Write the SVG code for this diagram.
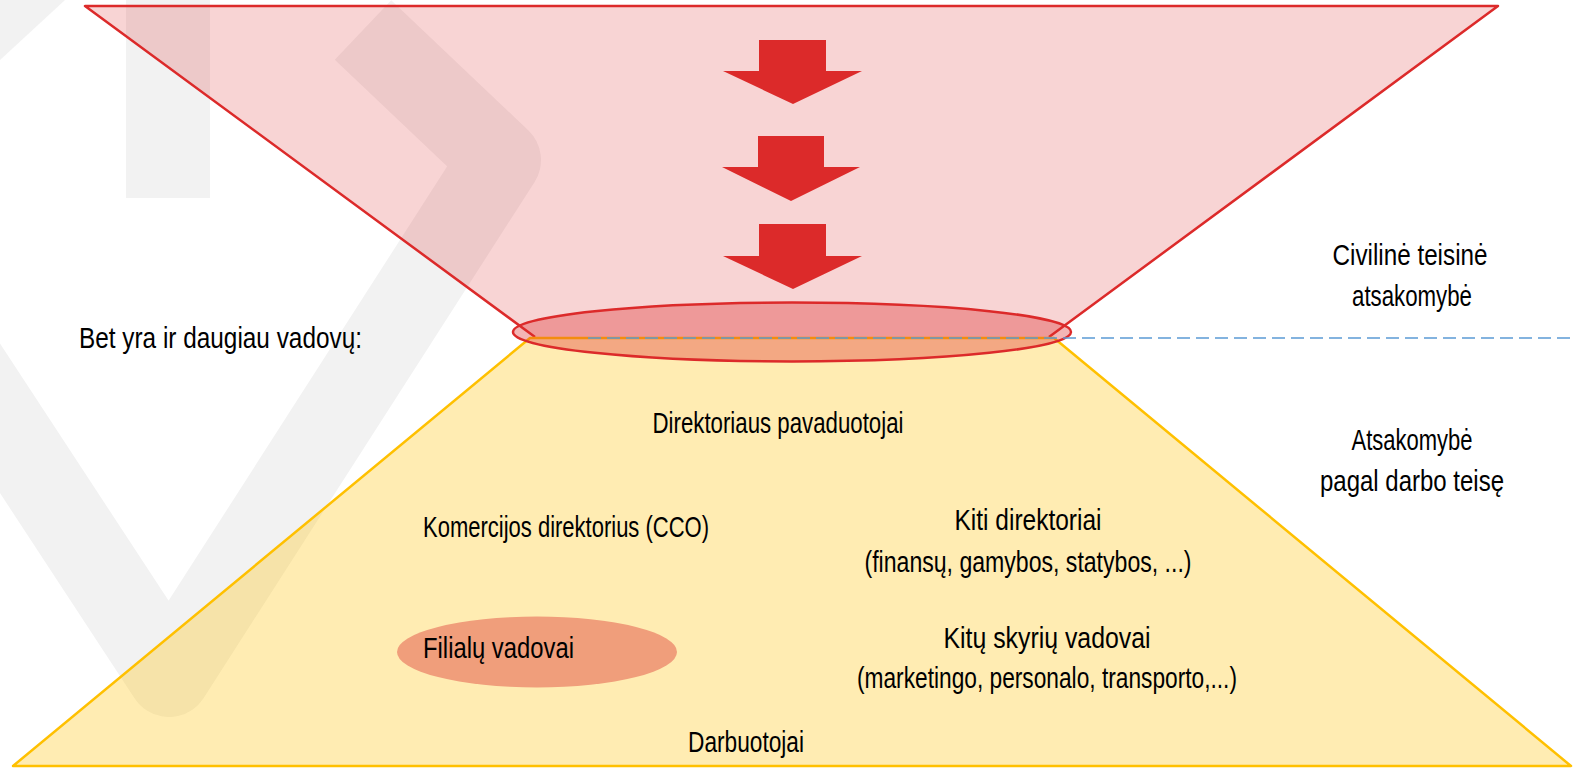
<svg xmlns="http://www.w3.org/2000/svg" width="1575" height="768" viewBox="0 0 1575 768">
<style>
.t{font-family:"Liberation Sans Narrow","Liberation Sans",Arial,sans-serif;font-size:30px;fill:#000}
.m{text-anchor:middle}
.arrow{fill:#dc2a2a}
.wm{fill:#f2f2f2}
</style>
<rect width="1575" height="768" fill="#ffffff"/>
<g id="watermark">
<rect class="wm" x="126" y="0" width="84" height="198"/>
<polygon class="wm" points="0,0 65,0 0,60"/>
<polyline points="363,30 500,160 169,676 -340,-100" fill="none" stroke="#f2f2f2" stroke-width="82" stroke-linejoin="round" stroke-linecap="butt"/>
</g>
<g id="top-funnel">
<polygon points="85,6 1498,6 1049,337 535,337" fill="#dc2a2a" fill-opacity="0.2"/>
<polyline points="535,337 85,6 1498,6 1049,337" fill="none" stroke="#dc2a2a" stroke-width="2.5" stroke-linejoin="round"/>
</g>
<g id="bottom-pyramid">
<polygon points="530,338 1054,338 1571,766 13,766" fill="#ffc000" fill-opacity="0.3" stroke="#ffc000" stroke-width="2.5" stroke-linejoin="round"/>
</g>
<g id="neck-ellipse">
<ellipse cx="792" cy="332" rx="279" ry="29.5" fill="#dc2a2a" fill-opacity="0.35" stroke="#dc2a2a" stroke-width="2.5"/>
</g>
<g id="connectors">
<line x1="588" y1="338" x2="1575" y2="338" stroke="#5b9bd5" stroke-width="1.5" stroke-dasharray="13 6"/>
</g>
<g id="arrows">
<polygon class="arrow" points="759,40 826,40 826,71 862,71 793,104 723,71 759,71"/>
<polygon class="arrow" points="758,136 824,136 824,167 860,167 791,201 722,167 758,167"/>
<polygon class="arrow" points="759,224 826,224 826,256 862,256 793,289 723,256 759,256"/>
</g>
<g id="civiline">
<text class="t m" x="1410" y="265" textLength="155" lengthAdjust="spacingAndGlyphs">Civilinė teisinė</text>
<text class="t m" x="1412" y="306" textLength="120" lengthAdjust="spacingAndGlyphs">atsakomybė</text>
</g>
<g id="bet-yra">
<text class="t" x="79" y="348" textLength="283" lengthAdjust="spacingAndGlyphs">Bet yra ir daugiau vadovų:</text>
</g>
<g id="direktoriaus">
<text class="t m" x="778" y="433" textLength="251" lengthAdjust="spacingAndGlyphs">Direktoriaus pavaduotojai</text>
</g>
<g id="darbo-teise">
<text class="t m" x="1412" y="450" textLength="121" lengthAdjust="spacingAndGlyphs">Atsakomybė</text>
<text class="t m" x="1412" y="491" textLength="184" lengthAdjust="spacingAndGlyphs">pagal darbo teisę</text>
</g>
<g id="komercijos">
<text class="t" x="423" y="537" textLength="286" lengthAdjust="spacingAndGlyphs">Komercijos direktorius (CCO)</text>
</g>
<g id="kiti-direktoriai">
<text class="t m" x="1028" y="530" textLength="147" lengthAdjust="spacingAndGlyphs">Kiti direktoriai</text>
<text class="t m" x="1028" y="572" textLength="327" lengthAdjust="spacingAndGlyphs">(finansų, gamybos, statybos, ...)</text>
</g>
<g id="filialu">
<ellipse cx="537" cy="652" rx="140" ry="35.5" fill="#f09e7b"/>
<text class="t" x="423" y="658" textLength="151" lengthAdjust="spacingAndGlyphs">Filialų vadovai</text>
</g>
<g id="kitu-skyriu">
<text class="t m" x="1047" y="648" textLength="207" lengthAdjust="spacingAndGlyphs">Kitų skyrių vadovai</text>
<text class="t m" x="1047" y="688" textLength="380" lengthAdjust="spacingAndGlyphs">(marketingo, personalo, transporto,...)</text>
</g>
<g id="darbuotojai">
<text class="t m" x="746" y="752" textLength="116" lengthAdjust="spacingAndGlyphs">Darbuotojai</text>
</g>
</svg>
